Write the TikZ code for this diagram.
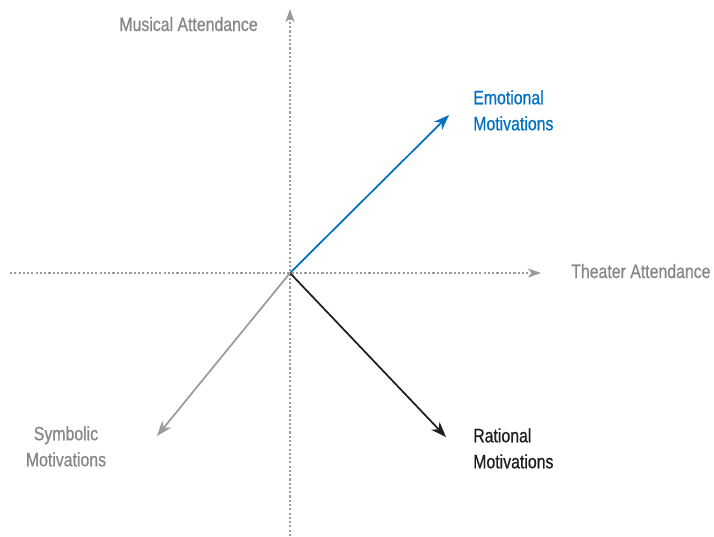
\documentclass[tikz,border=0pt]{standalone}
\usepackage{fontspec}
\setmainfont{Liberation Sans}[FakeStretch=0.82,FakeBold=0.7]
\usetikzlibrary{arrows.meta}
\definecolor{axisgray}{RGB}{155,155,155}
\definecolor{labelgray}{RGB}{135,135,135}
\definecolor{emoblue}{RGB}{0,112,192}
\definecolor{ratblack}{RGB}{30,30,30}
\begin{document}
\begin{tikzpicture}[x=0.75pt,y=-0.75pt,
  axis/.style={axisgray,line width=0.8pt,dash pattern=on 1.6pt off 1.6pt,
    -{Stealth[length=10pt,width=7pt,inset=3pt]}},
  vec/.style={line width=1.3pt,-{Stealth[length=11.5pt,width=8.5pt,inset=3.5pt]}},
  lbl/.style={font=\fontsize{14.5}{19.5}\selectfont,inner sep=0pt}]
\useasboundingbox (0,0) rectangle (714,536);
\coordinate (o) at (290,273);
\coordinate (ybot) at (290,536);
\coordinate (ytop) at (290,9);
\coordinate (xl) at (10,273);
\coordinate (xr) at (541,273);
\coordinate (emo) at (449,115);
\coordinate (rat) at (446,437);
\coordinate (sym) at (157,436);
\draw[axis] (ybot) -- (ytop);
\draw[axis] (xl) -- (xr);
\draw[vec,emoblue] (o) -- (emo);
\draw[vec,ratblack] (o) -- (rat);
\draw[vec,axisgray] (o) -- (sym);
\node[lbl,labelgray,anchor=base east] (musical) at (258,31) {Musical Attendance};
\node[lbl,labelgray,anchor=base west] (theater) at (571,278) {Theater Attendance};
\node[lbl,emoblue,anchor=north west,align=left] (emotional) at (473,90) {Emotional\\Motivations};
\node[lbl,ratblack,anchor=north west,align=left] (rational) at (473,428) {Rational\\Motivations};
\node[lbl,labelgray,anchor=north,align=center] (symbolic) at (66,426) {Symbolic\\Motivations};
\end{tikzpicture}
\end{document}
